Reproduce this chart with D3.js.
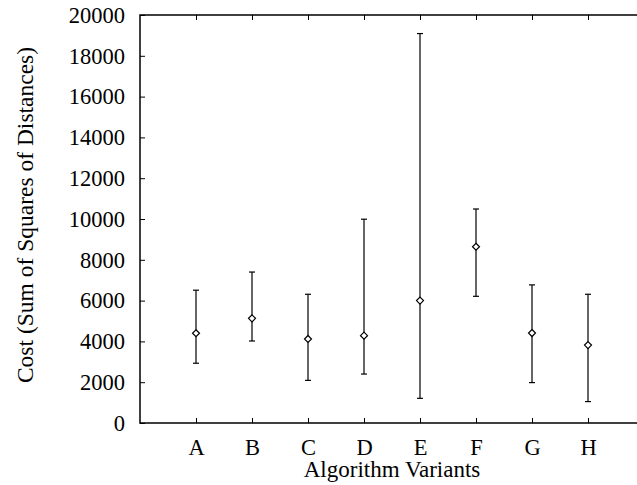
<!DOCTYPE html>
<html>
<head>
<meta charset="utf-8">
<script src="https://cdn.jsdelivr.net/npm/d3@7"></script>
<style>
  body { margin: 0; background: #fff; }
  svg text { font-family: "Liberation Serif", "DejaVu Serif", serif; fill: #000; }
</style>
</head>
<body>
<div id="chart"></div>
<script>
const variants = ["A", "B", "C", "D", "E", "F", "G", "H"];
const meanCost = [4400, 5130, 4120, 4280, 6000, 8640, 4410, 3820];
const lowCost  = [2930, 4020, 2090, 2400, 1210, 6210, 1980, 1050];
const highCost = [6510, 7400, 6310, 9990, 19090, 10490, 6770, 6310];
const yTicks = [0, 2000, 4000, 6000, 8000, 10000, 12000, 14000, 16000, 18000, 20000];

const width = 637;
const height = 485;
const margin = { top: 15, left: 140, bottom: 62 };
const plotRight = 644; // frame runs off the right edge

const svg = d3.select("#chart")
  .append("svg")
  .attr("width", width)
  .attr("height", height);

const x = d3.scaleLinear().domain([0, variants.length + 1]).range([margin.left, plotRight]);
const y = d3.scaleLinear().domain([0, 20000]).range([height - margin.bottom, margin.top]);

const points = variants.map((v, i) => ({ name: v, pos: i + 1, mean: meanCost[i], low: lowCost[i], high: highCost[i] }));

// axes, ticks pointing into the plot
const tickLen = 5;
svg.append("g")
  .attr("transform", `translate(${margin.left},0)`)
  .call(d3.axisLeft(y).tickValues(yTicks).tickFormat(d3.format("d"))
    .tickSizeInner(-tickLen).tickSizeOuter(0).tickPadding(15))
  .call(g => g.select(".domain").remove());

svg.append("g")
  .attr("transform", `translate(0,${y(0)})`)
  .call(d3.axisBottom(x).tickValues(points.map(d => d.pos)).tickFormat((d, i) => variants[i])
    .tickSizeInner(-tickLen).tickSizeOuter(0).tickPadding(16))
  .call(g => g.select(".domain").remove());

svg.append("g")
  .attr("transform", `translate(0,${y(20000)})`)
  .call(d3.axisTop(x).tickValues(points.map(d => d.pos)).tickFormat("").tickSizeInner(-tickLen).tickSizeOuter(0))
  .call(g => g.select(".domain").remove());

svg.selectAll(".tick text").attr("font-size", 22.5);
svg.selectAll(".tick line").attr("stroke", "#000").attr("stroke-width", 1);

// frame
svg.append("rect")
  .attr("x", x(0))
  .attr("y", y(20000))
  .attr("width", x(variants.length + 1) - x(0))
  .attr("height", y(0) - y(20000))
  .attr("fill", "none")
  .attr("stroke", "#000")
  .attr("stroke-width", 1.5);

// error bars
const bars = svg.append("g").attr("stroke", "#000").attr("stroke-width", 1.2).attr("fill", "none");
const cap = 3;
bars.selectAll(".whisker")
  .data(points)
  .join("line")
  .attr("x1", d => x(d.pos)).attr("x2", d => x(d.pos))
  .attr("y1", d => y(d.low)).attr("y2", d => y(d.high));
bars.selectAll(".cap-hi")
  .data(points)
  .join("line")
  .attr("x1", d => x(d.pos) - cap).attr("x2", d => x(d.pos) + cap)
  .attr("y1", d => y(d.high)).attr("y2", d => y(d.high));
bars.selectAll(".cap-lo")
  .data(points)
  .join("line")
  .attr("x1", d => x(d.pos) - cap).attr("x2", d => x(d.pos) + cap)
  .attr("y1", d => y(d.low)).attr("y2", d => y(d.low));

// diamond markers
const dsz = 3.5;
svg.append("g")
  .selectAll("path")
  .data(points)
  .join("path")
  .attr("d", d => {
    const cx = x(d.pos), cy = y(d.mean);
    return `M${cx},${cy - dsz}L${cx + dsz},${cy}L${cx},${cy + dsz}L${cx - dsz},${cy}Z`;
  })
  .attr("fill", "#fff")
  .attr("stroke", "#000")
  .attr("stroke-width", 1.2);

// axis titles
svg.append("text")
  .attr("x", (x(0) + x(variants.length + 1)) / 2)
  .attr("y", 477)
  .attr("text-anchor", "middle")
  .attr("font-size", 23)
  .text("Algorithm Variants");

svg.append("text")
  .attr("transform", `translate(33,215) rotate(-90)`)
  .attr("text-anchor", "middle")
  .attr("font-size", 23.5)
  .text("Cost (Sum of Squares of Distances)");
</script>
</body>
</html>
